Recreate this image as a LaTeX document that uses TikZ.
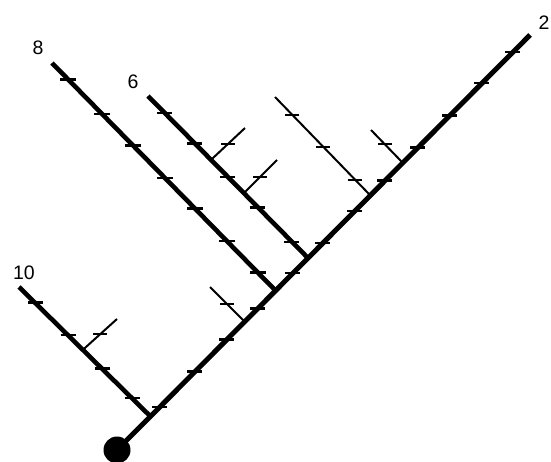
\documentclass[tikz,border=0pt]{standalone}
\usepackage{fontspec}
\setmainfont{Liberation Sans}
\begin{document}
\begin{tikzpicture}[x=1pt,y=1pt,
  trunkline/.style={line width=5pt},
  branchline/.style={line width=4.6pt},
  thinline/.style={line width=2pt},
  lbl/.style={font=\fontsize{19.5}{19.5}\selectfont, inner sep=0pt},
  tk/.pic={\draw[line width=2.5pt] (-7.5,0) -- (7.5,0);},
  tks/.pic={\draw[line width=2pt] (-7,0) -- (7,0);}
]
\useasboundingbox (0,0) rectangle (551,461);
% trunk
\coordinate (root) at (117,11);
\coordinate (top) at (530,426);
% main branches (outer ends)
\coordinate (b10s) at (19,174);  \coordinate (b10d) at (147,48);
\coordinate (b8s) at (52,398);   \coordinate (b8d) at (273,173);
\coordinate (b6s) at (148,365);  \coordinate (b6d) at (303,208);
\coordinate (bts) at (275,364);  \coordinate (btd) at (368,268);
\coordinate (bqs) at (371,331);  \coordinate (bqd) at (400,301);
\coordinate (bls) at (210,174);  \coordinate (bld) at (241,143);
% junctions on trunk
\coordinate (j10) at (intersection of b10s--b10d and root--top);
\coordinate (j8) at (intersection of b8s--b8d and root--top);
\coordinate (j6) at (intersection of b6s--b6d and root--top);
\coordinate (jt) at (intersection of bts--btd and root--top);
\coordinate (jq) at (intersection of bqs--bqd and root--top);
\coordinate (jl) at (intersection of bls--bld and root--top);
% side branches (outer ends and directions)
\coordinate (s1s) at (245,333); \coordinate (s1d) at (213,303);
\coordinate (s2s) at (277,301); \coordinate (s2d) at (247,271);
\coordinate (s3s) at (117,142); \coordinate (s3d) at (86,114);
\coordinate (js1) at (intersection of s1s--s1d and b6s--j6);
\coordinate (js2) at (intersection of s2s--s2d and b6s--j6);
\coordinate (js3) at (intersection of s3s--s3d and b10s--j10);

% draw lines
\draw[trunkline] (root) -- (top);
\draw[branchline] (b10s) -- (j10);
\draw[branchline] (b8s) -- (j8);
\draw[branchline] (b6s) -- (j6);
\draw[thinline] (bts) -- (jt);
\draw[thinline] (bqs) -- (jq);
\draw[thinline] (bls) -- (jl);
\draw[thinline] (s1s) -- (js1);
\draw[thinline] (s2s) -- (js2);
\draw[thinline] (s3s) -- (js3);

% root dot
\node[circle, fill=black, minimum size=27pt, inner sep=0pt] (rootdot) at (root) {};

% ticks
\foreach \x in {160,195,227,258,293,323,355,385,418,450,482,513}
  \path (intersection of root--top and \x,0--\x,1) pic{tk};
\foreach \x in {68,102,133,165,195,227,258}
  \path (intersection of b8s--j8 and \x,0--\x,1) pic{tk};
\foreach \x in {165,195,228,258,292}
  \path (intersection of b6s--j6 and \x,0--\x,1) pic{tk};
\foreach \x in {35,68,102,132}
  \path (intersection of b10s--j10 and \x,0--\x,1) pic{tk};
\foreach \x in {292,323,355}
  \path (intersection of bts--jt and \x,0--\x,1) pic{tks};
\path (intersection of bqs--jq and 385,0--385,1) pic{tks};
\path (intersection of bls--jl and 227,0--227,1) pic{tks};
\path (intersection of s1s--js1 and 228,0--228,1) pic{tks};
\path (intersection of s2s--js2 and 260,0--260,1) pic{tks};
\path (intersection of s3s--js3 and 100,0--100,1) pic{tks};

% labels
\node[lbl] (l8) at (38,413) {8};
\node[lbl] (l6) at (133,379) {6};
\node[lbl] (l10) at (24,188) {10};
\node[lbl] (l2) at (544,438) {2};
\end{tikzpicture}
\end{document}
